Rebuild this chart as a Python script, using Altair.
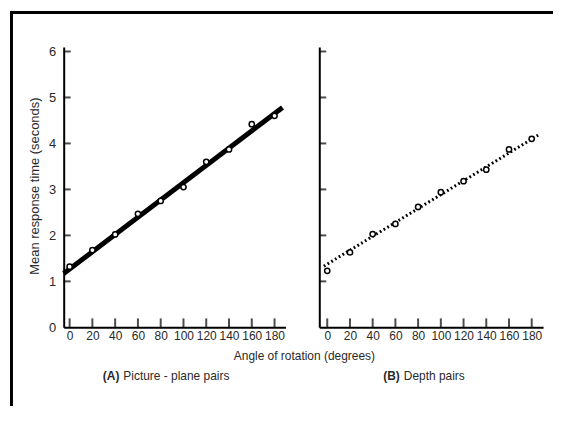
import altair as alt
import pandas as pd

# ---- data ----
angles = [0, 20, 40, 60, 80, 100, 120, 140, 160, 180]
picture_plane_rt = [1.32, 1.68, 2.02, 2.47, 2.75, 3.05, 3.60, 3.87, 4.42, 4.60]
depth_rt = [1.23, 1.63, 2.03, 2.25, 2.62, 2.94, 3.18, 3.43, 3.87, 4.10]
picture_fit_angle = [-5.2, 187]
picture_fit_rt = [1.17, 4.78]
depth_fit_angle = [-3, 187]
depth_fit_rt = [1.33, 4.20]
x_tick_values = angles
y_tick_values = [0, 1, 2, 3, 4, 5, 6]
y_tick_marks = [1, 2, 3, 4, 5, 6]

y_title = "Mean response time (seconds)"
x_title = "Angle of rotation (degrees)"
label_a = "(A)"
caption_a = "Picture - plane pairs"
label_b = "(B)"
caption_b = "Depth pairs"

FONT = "Liberation Sans, Arial, sans-serif"
TXT = "#2a2a2a"
W_A, W_B, H = 223, 225, 282


def panel(rt, fit_x, fit_y, xdom, width, dashed, labels):
    X = alt.X(
        "angle:Q",
        scale=alt.Scale(domain=xdom, nice=False, zero=False),
        axis=alt.Axis(
            values=x_tick_values, ticks=False, tickSize=0, labelPadding=3,
            domainColor="black", domainWidth=2, grid=False, title=None,
            labelFont=FONT, labelFontSize=12, labelColor=TXT,
            labelFlush=False, labelOverlap=False,
        ),
    )
    Y = alt.Y(
        "rt:Q",
        scale=alt.Scale(domain=[0, 6.1], nice=False, zero=False),
        axis=alt.Axis(
            values=y_tick_values, ticks=False, tickSize=0, labelPadding=8,
            labels=labels, domainColor="black", domainWidth=2, grid=False,
            title=None, labelFont=FONT, labelFontSize=13, labelColor=TXT,
            labelFlush=False, labelOverlap=False,
        ),
    )
    pts = pd.DataFrame({"angle": angles, "rt": rt})
    fit = pd.DataFrame({"angle": fit_x, "rt": fit_y})
    xt = pd.DataFrame({"angle": x_tick_values})
    yt = pd.DataFrame({"rt": y_tick_marks})

    if dashed:
        line = alt.Chart(fit).mark_line(color="black", strokeWidth=3, strokeDash=[1.8, 2.6], strokeCap="butt")
    else:
        line = alt.Chart(fit).mark_line(color="black", strokeWidth=5, strokeCap="butt")
    line = line.encode(x=X, y=Y)

    xticks = alt.Chart(xt).mark_tick(orient="vertical", size=9, thickness=2, color="black").encode(
        x=X, y=alt.value(H - 4.5)
    )
    yticks = alt.Chart(yt).mark_tick(orient="horizontal", size=7, thickness=2, color="black").encode(
        y=Y, x=alt.value(3.5)
    )
    points = alt.Chart(pts).mark_point(
        shape="circle", filled=True, fill="white", stroke="black", strokeWidth=1.5, size=28, opacity=1
    ).encode(x=X, y=Y)
    return [line, xticks, yticks, points]


one = pd.DataFrame({"k": [0]})


def text(t, x, y, align="center", bold=False, angle=None, size=12):
    kw = dict(font=FONT, fontSize=size, color=TXT, align=align, baseline="middle",
              fontWeight="bold" if bold else "normal")
    if angle is not None:
        kw["angle"] = angle
    return alt.Chart(one).mark_text(**kw).encode(
        x=alt.value(x), y=alt.value(y), text=alt.value(t)
    )


frame_top = alt.Chart(one).mark_rule(color="black", strokeWidth=3, strokeCap="butt").encode(
    x=alt.value(-54), x2=alt.value(492), y=alt.value(-34.5)
)
frame_left = alt.Chart(one).mark_rule(color="black", strokeWidth=3, strokeCap="butt").encode(
    x=alt.value(-52.5), y=alt.value(-36), y2=alt.value(361)
)

no_frame = alt.ViewBackground(stroke="transparent", strokeWidth=0)

left_layers = panel(picture_plane_rt, picture_fit_angle, picture_fit_rt, [-5.2, 189.6], W_A, False, True)
left_layers += [
    frame_top, frame_left,
    text(y_title, -29, 140, angle=270, size=13),
    text(x_title, 242, 311),
    text(label_a, 56, 331, align="right", bold=True),
    text(caption_a, 60, 331, align="left"),
    text(label_b, 338, 331, align="right", bold=True),
    text(caption_b, 342, 331, align="left"),
]
left = alt.layer(*left_layers).properties(width=W_A, height=H, view=no_frame)

right_layers = panel(depth_rt, depth_fit_angle, depth_fit_rt, [-7, 190], W_B, True, False)
right = alt.layer(*right_layers).properties(width=W_B, height=H, view=no_frame)

chart = (
    alt.hconcat(left, right, spacing=34, bounds="flush")
    .properties(padding={"left": 0, "top": 0, "right": 0, "bottom": 0})
    .configure_view(stroke="transparent", strokeWidth=0)
    .configure(background="white")
)

chart.save("out.html", embed_options={"renderer": "svg", "actions": False})
